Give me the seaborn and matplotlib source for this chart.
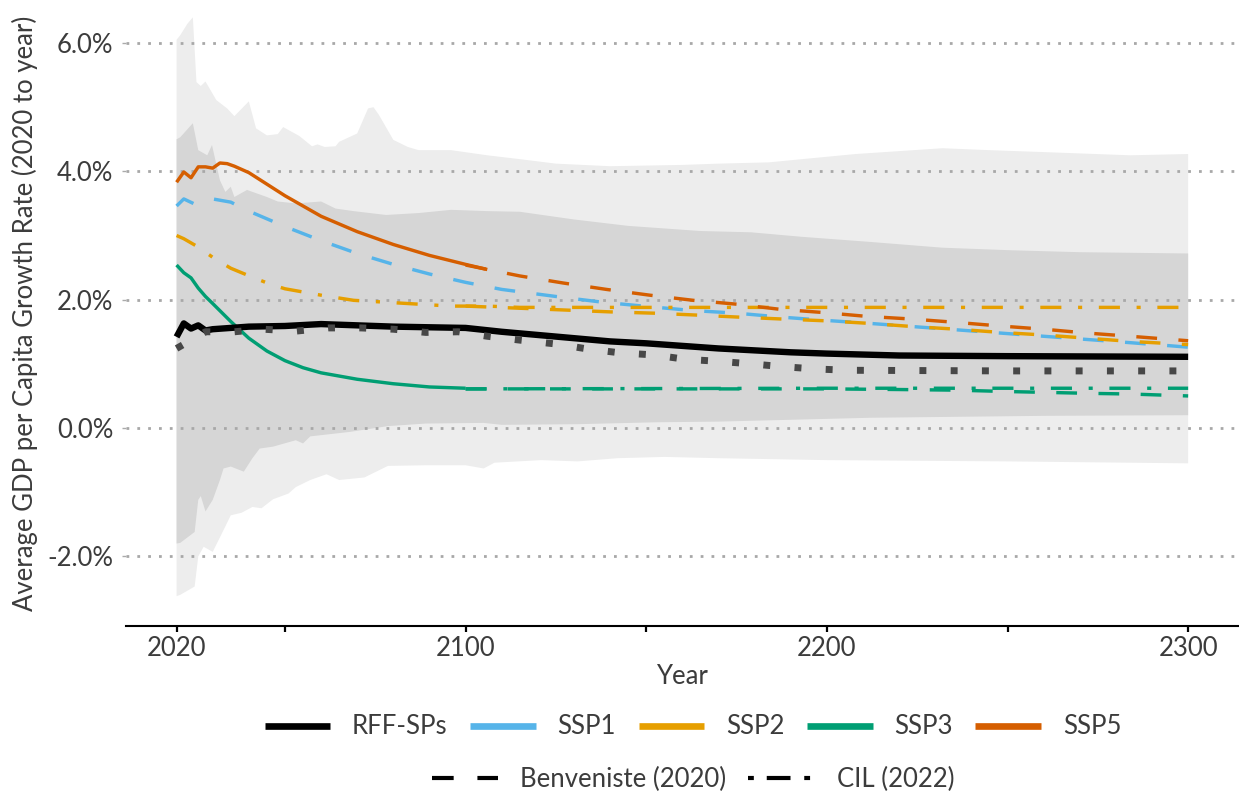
import numpy as np
import pandas as pd
import matplotlib
matplotlib.use("Agg")
import matplotlib.pyplot as plt
import seaborn as sns
from matplotlib.lines import Line2D
from matplotlib.ticker import FuncFormatter, FixedLocator

sns.set_theme(style="white")
plt.rcParams['font.family'] = ['Lato', 'DejaVu Sans']

# ---------------- data (GDP per capita growth rate, % , 2020 to year) ----------------
# RFF-SPs median
rff_med_years = [2020, 2022, 2024, 2026, 2028, 2030, 2040, 2050, 2060, 2070, 2080, 2090, 2100,
                 2110, 2120, 2130, 2140, 2150, 2160, 2170, 2180, 2190, 2200, 2220, 2250, 2300]
rff_med_vals = [1.42, 1.63, 1.55, 1.60, 1.52, 1.54, 1.58, 1.59, 1.62, 1.60, 1.58, 1.57, 1.56,
                1.50, 1.45, 1.40, 1.35, 1.32, 1.28, 1.24, 1.21, 1.18, 1.16, 1.13, 1.12, 1.11]
# RFF-SPs mean (dotted)
rff_mean_years = [2020, 2028, 2036, 2044, 2053, 2062, 2071, 2080, 2089, 2098, 2106, 2115, 2125,
                  2134, 2143, 2152, 2161, 2170, 2179, 2188, 2197, 2206, 2250, 2300]
rff_mean_vals = [1.24, 1.50, 1.50, 1.54, 1.51, 1.56, 1.56, 1.54, 1.49, 1.50, 1.43, 1.37, 1.31,
                 1.23, 1.17, 1.14, 1.07, 1.04, 1.00, 0.955, 0.92, 0.90, 0.89, 0.89]

# SSP1 (Benveniste, dashed)
ssp1_years = [2020, 2022, 2025, 2030, 2035, 2040, 2050, 2060, 2070, 2080, 2090, 2100, 2110, 2125,
              2138, 2151, 2163, 2175, 2187, 2199, 2212, 2224, 2236, 2248, 2260, 2272, 2284, 2300]
ssp1_vals = [3.46, 3.57, 3.49, 3.57, 3.52, 3.38, 3.14, 2.92, 2.72, 2.55, 2.40, 2.27, 2.16, 2.05,
             1.96, 1.89, 1.83, 1.79, 1.73, 1.68, 1.63, 1.58, 1.53, 1.48, 1.43, 1.38, 1.33, 1.26]

# SSP2 (CIL, dash-dot)
ssp2_cil_years = [2020, 2022, 2026, 2030, 2035, 2041, 2046, 2050, 2060, 2069, 2078, 2087, 2096,
                  2106, 2115, 2200, 2300]
ssp2_cil_vals = [3.00, 2.95, 2.82, 2.66, 2.49, 2.35, 2.24, 2.17, 2.07, 1.99, 1.96, 1.93, 1.90,
                 1.90, 1.88, 1.88, 1.88]
# SSP2 (Benveniste, dashed, after 2100)
ssp2_ben_years = [2100, 2127, 2140, 2152, 2164, 2175, 2187, 2200, 2212, 2224, 2236, 2248, 2260,
                  2272, 2284, 2300]
ssp2_ben_vals = [1.90, 1.84, 1.81, 1.79, 1.76, 1.73, 1.70, 1.67, 1.63, 1.58, 1.54, 1.49, 1.45,
                 1.40, 1.35, 1.30]

# SSP3 (solid to 2100, then dashed / dash-dot)
ssp3_years = [2020, 2022, 2024, 2026, 2028, 2030, 2035, 2040, 2045, 2050, 2055, 2060, 2070,
              2080, 2090, 2100]
ssp3_vals = [2.54, 2.42, 2.34, 2.18, 2.05, 1.94, 1.66, 1.40, 1.20, 1.05, 0.94, 0.86, 0.76,
             0.69, 0.64, 0.62]
ssp3_ben_years = [2100, 2150, 2200, 2220, 2236, 2249, 2273, 2284, 2300]
ssp3_ben_vals = [0.61, 0.61, 0.61, 0.60, 0.59, 0.57, 0.54, 0.53, 0.50]
ssp3_cil_years = [2100, 2200, 2300]
ssp3_cil_vals = [0.61, 0.62, 0.62]

# SSP5 (solid to 2100, then dashed)
ssp5_years = [2020, 2022, 2024, 2026, 2028, 2030, 2032, 2034, 2036, 2040, 2045, 2050, 2060,
              2070, 2080, 2090, 2100, 2106]
ssp5_vals = [3.83, 3.99, 3.90, 4.07, 4.07, 4.05, 4.13, 4.12, 4.08, 3.98, 3.80, 3.62, 3.30,
             3.06, 2.86, 2.69, 2.55, 2.47]
ssp5_ben_years = [2100, 2115, 2127, 2139, 2151, 2163, 2175, 2187, 2199, 2211, 2223, 2235, 2248,
                  2260, 2272, 2284, 2300]
ssp5_ben_vals = [2.54, 2.37, 2.26, 2.16, 2.07, 1.99, 1.93, 1.85, 1.80, 1.74, 1.70, 1.65, 1.59,
                 1.54, 1.48, 1.43, 1.36]

# RFF-SPs outer band (upper / lower edges)
outer_up_years = [2020, 2021, 2023, 2024.5, 2025.5, 2026.7, 2028, 2031, 2034, 2036, 2040, 2042,
                  2045, 2048, 2049.5, 2054, 2057.5, 2059, 2061, 2064, 2065, 2070, 2073, 2074.5,
                  2076, 2080, 2084, 2087, 2096, 2106, 2115, 2125, 2140, 2160, 2170, 2184, 2195,
                  2208, 2232, 2245, 2260, 2284, 2300]
outer_up_vals = [6.05, 6.12, 6.30, 6.40, 5.39, 5.33, 5.40, 5.11, 4.98, 4.86, 5.09, 4.67,
                 4.56, 4.58, 4.69, 4.55, 4.39, 4.42, 4.38, 4.39, 4.46, 4.59, 4.98, 5.00,
                 4.88, 4.49, 4.38, 4.33, 4.33, 4.25, 4.19, 4.12, 4.08, 4.10, 4.12, 4.14, 4.20,
                 4.27, 4.36, 4.33, 4.30, 4.25, 4.27]
outer_lo_years = [2020, 2021, 2025, 2026, 2027.5, 2030, 2033, 2035, 2038, 2041, 2043.5, 2046.7,
                  2051, 2053, 2057, 2061.5, 2065, 2072, 2078.5, 2089, 2100, 2105, 2108, 2121,
                  2131, 2142, 2155, 2170, 2200, 2250, 2300]
outer_lo_vals = [-2.62, -2.60, -2.47, -2.00, -1.85, -1.93, -1.59, -1.36, -1.32, -1.23, -1.25,
                 -1.11, -1.02, -0.92, -0.81, -0.72, -0.81, -0.77, -0.59, -0.58, -0.58, -0.63,
                 -0.54, -0.50, -0.52, -0.47, -0.45, -0.47, -0.50, -0.52, -0.55]

# RFF-SPs inner band (upper / lower edges)
inner_up_years = [2020, 2021, 2024.5, 2026, 2028.5, 2029.8, 2032, 2033.5, 2035, 2036, 2039.5,
                  2045, 2048, 2053, 2060, 2064, 2069, 2078, 2087, 2096, 2106, 2115, 2130, 2145,
                  2165, 2179, 2193, 2212, 2232, 2251, 2270, 2300]
inner_up_vals = [4.50, 4.53, 4.75, 4.33, 4.25, 4.41, 3.86, 3.68, 3.76, 3.60, 3.71,
                 3.60, 3.53, 3.50, 3.53, 3.42, 3.38, 3.32, 3.35, 3.40, 3.38, 3.37, 3.25, 3.15,
                 3.07, 3.05, 2.98, 2.90, 2.81, 2.77, 2.74, 2.72]
inner_lo_years = [2020, 2021, 2025, 2026, 2026.7, 2028, 2030, 2032, 2033, 2035, 2038.6, 2041,
                  2043, 2046.7, 2053, 2055, 2057, 2068, 2078.5, 2089, 2105, 2110, 2131, 2153,
                  2170, 2212, 2260, 2300]
inner_lo_vals = [-1.80, -1.79, -1.62, -1.12, -1.06, -1.30, -1.12, -0.81, -0.63, -0.60, -0.68,
                 -0.47, -0.32, -0.29, -0.19, -0.24, -0.13, -0.06, 0.03, 0.07, 0.08, 0.05, 0.06,
                 0.09, 0.10, 0.16, 0.19, 0.20]

y_ticks = [-2.0, 0.0, 2.0, 4.0, 6.0]
x_major = [2020, 2100, 2200, 2300]
x_minor = [2050, 2150, 2250]

legend1_labels = ["RFF-SPs", "SSP1", "SSP2", "SSP3", "SSP5"]
legend2_labels = ["Benveniste (2020)", "CIL (2022)"]

# ---------------- styles ----------------
C_RFF = "#000000"
C_MEAN = "#474747"
C_SSP1 = "#56B4E9"
C_SSP2 = "#E69F00"
C_SSP3 = "#009E73"
C_SSP5 = "#D55E00"
C_OUTER = "#EDEDED"
C_INNER = "#D6D6D6"
TXT = "#3C3C3C"
FS = 18.5

SSP_LW = 2.45
DASHED = (6.1, 6.3)
DASHDOT = (6.2, 4.9, 1.2, 4.9)

fig = plt.figure(figsize=(12.39, 7.97), dpi=100)
ax = fig.add_axes([126 / 1239, 1 - 626 / 797, (1238 - 126) / 1239, 626 / 797])

# bands
ax.fill(np.concatenate([outer_up_years, outer_lo_years[::-1]]),
        np.concatenate([outer_up_vals, outer_lo_vals[::-1]]),
        color=C_OUTER, lw=0, zorder=0.2)
ax.fill(np.concatenate([inner_up_years, inner_lo_years[::-1]]),
        np.concatenate([inner_up_vals, inner_lo_vals[::-1]]),
        color=C_INNER, lw=0, zorder=0.3)


def draw(years, vals, color, lw, dashes=None, z=2.0):
    sns.lineplot(x=years, y=vals, ax=ax, color=color, linewidth=lw, zorder=z,
                 estimator=None, sort=True)
    line = ax.lines[-1]
    if dashes is not None:
        line.set_dashes(dashes)
        line.set_dash_capstyle("butt")
    line.set_solid_capstyle("butt")
    return line


draw(ssp3_years, ssp3_vals, C_SSP3, SSP_LW, z=2.0)
draw(ssp3_ben_years, ssp3_ben_vals, C_SSP3, SSP_LW, DASHED, z=2.0)
draw(ssp3_cil_years, ssp3_cil_vals, C_SSP3, SSP_LW, DASHDOT, z=2.0)
draw(ssp2_cil_years, ssp2_cil_vals, C_SSP2, SSP_LW, DASHDOT, z=2.1)
draw(ssp1_years, ssp1_vals, C_SSP1, SSP_LW, DASHED, z=2.0)
draw(ssp2_ben_years, ssp2_ben_vals, C_SSP2, SSP_LW, DASHED, z=2.05)
draw(ssp5_years, ssp5_vals, C_SSP5, SSP_LW, z=2.2)
draw(ssp5_ben_years, ssp5_ben_vals, C_SSP5, SSP_LW, DASHED, z=2.2)
draw(rff_med_years, rff_med_vals, C_RFF, 4.6, z=2.5)
draw(rff_mean_years, rff_mean_vals, C_MEAN, 5.0, (1.0, 3.5), z=2.6)

# axes formatting
ax.set_xlim(2006, 2313.8)
ax.set_ylim(-3.085, 6.67)
ax.set_axisbelow(True)
for s in ["top", "right", "left"]:
    ax.spines[s].set_visible(False)
ax.spines["bottom"].set_color("black")
ax.spines["bottom"].set_linewidth(1.5)
ax.spines["bottom"].set_zorder(3)

ax.xaxis.set_major_locator(FixedLocator(x_major))
ax.xaxis.set_minor_locator(FixedLocator(x_minor))
ax.yaxis.set_major_locator(FixedLocator(y_ticks))
ax.yaxis.set_major_formatter(FuncFormatter(lambda v, p: f"{v:.1f}%"))
ax.xaxis.set_major_formatter(FuncFormatter(lambda v, p: f"{int(v)}"))

ax.tick_params(axis="x", which="both", bottom=True, length=4.5, width=1.6, color="black",
               direction="out", labelsize=FS, labelcolor=TXT, pad=3)
ax.tick_params(axis="y", which="both", left=True, length=3, width=1.0, color="#AAAAAA",
               labelsize=FS, labelcolor=TXT, pad=6)

ax.grid(False)
ax.yaxis.grid(True, color="#A8A8A8", linestyle=(0, (1, 2.9)), linewidth=2.0)

ax.set_xlabel("Year", fontsize=FS, color=TXT, labelpad=2)
ax.set_ylabel("Average GDP per Capita Growth Rate (2020 to year)", fontsize=FS, color=TXT,
              labelpad=7)
ax.set_facecolor("white")

# legends
colors = [C_RFF, C_SSP1, C_SSP2, C_SSP3, C_SSP5]
h1 = [Line2D([], [], color=c, lw=4.8, solid_capstyle="butt") for c in colors]
leg1 = fig.legend(h1, legend1_labels, loc="center", bbox_to_anchor=(0.5593, 1 - 727 / 797),
                  ncol=5, frameon=False, fontsize=FS, handlelength=2.55, handletextpad=0.85,
                  columnspacing=0.88, labelcolor=TXT)
h2 = [Line2D([], [], color="black", lw=3.0, dashes=(5.2, 5.7), dash_capstyle="butt"),
      Line2D([], [], color="black", lw=3.0, dashes=(1.4, 3.1, 5.7, 3.3), dash_capstyle="butt")]
leg2 = fig.legend(h2, legend2_labels, loc="center", bbox_to_anchor=(0.5593, 1 - 779 / 797),
                  ncol=2, frameon=False, fontsize=FS, handlelength=2.6, handletextpad=0.85,
                  columnspacing=0.85, labelcolor=TXT)

fig.savefig("out.png", dpi=100, facecolor="white")
